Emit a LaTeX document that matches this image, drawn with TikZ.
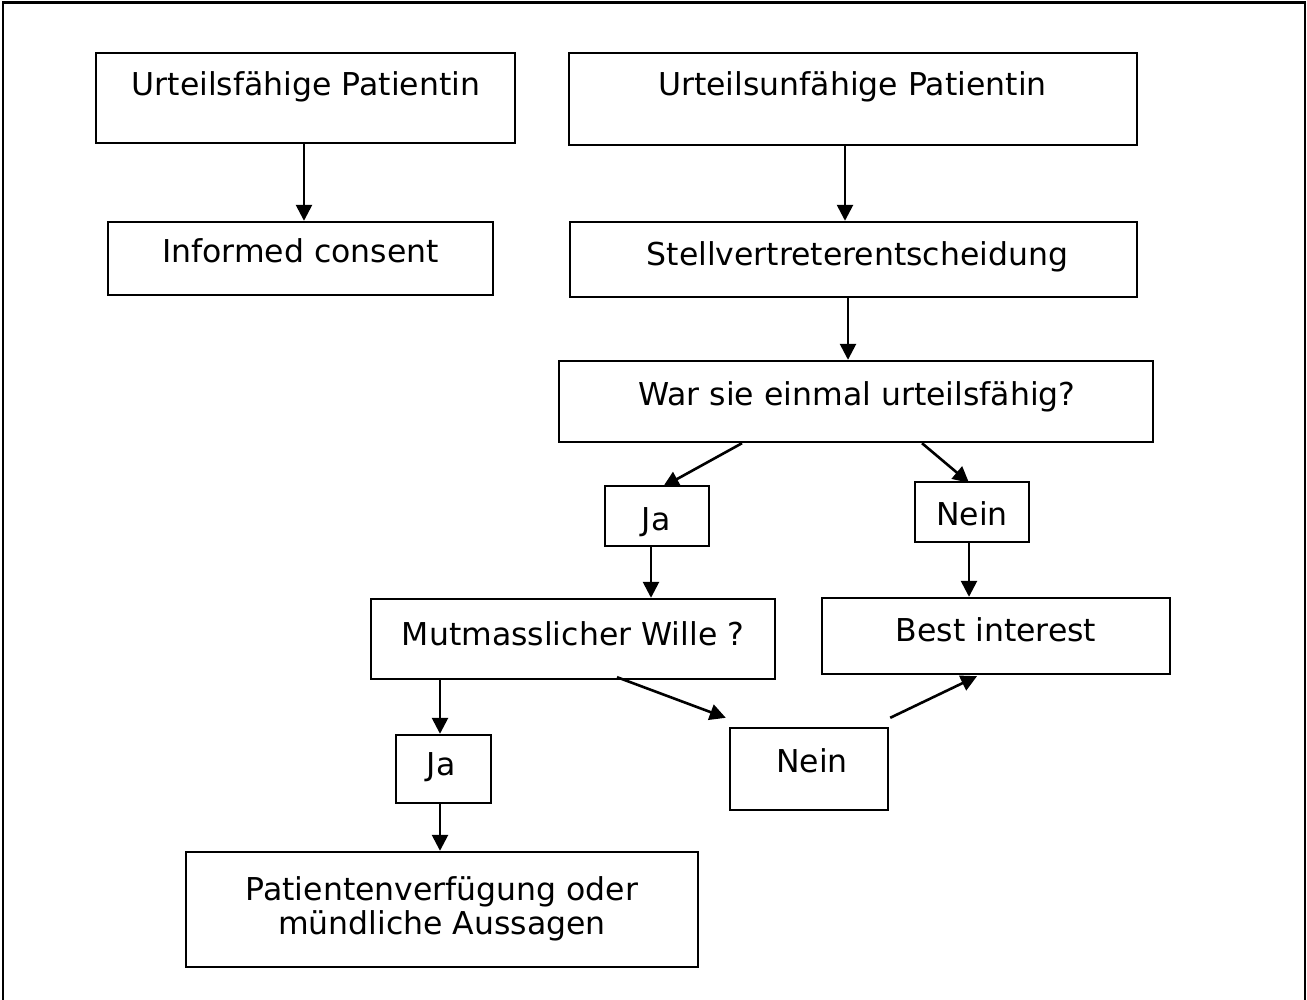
\documentclass[tikz,border=0pt]{standalone}
\usepackage{fontspec}
\setmainfont{DejaVu Sans}
\usetikzlibrary{arrows.meta}
\begin{document}
\begin{tikzpicture}[x=1pt,y=-1pt,
  box/.style={draw, line width=2.4pt, minimum width=#1, inner sep=0pt},
  txt/.style={font=\fontsize{31.5}{38}\selectfont, inner sep=0pt, anchor=base},
  arr/.style={line width=2.6pt, -{Triangle[length=16pt,width=16pt]}}]
\useasboundingbox (0,0) rectangle (1307,1000);
\draw[line width=2.2pt] (3,1010) -- (3,2.5) -- (1305,2.5) -- (1305,1010);
% boxes
\node[box=419pt, minimum height=90pt] (b1) at (305.5,98) {};
\node[box=385pt, minimum height=73pt] (b2) at (300.5,258.5) {};
\node[box=568pt, minimum height=92pt] (b3) at (853,99) {};
\node[box=567pt, minimum height=75pt] (b4) at (853.5,259.5) {};
\node[box=594pt, minimum height=81pt] (b5) at (856,401.5) {};
\node[box=104pt, minimum height=60pt] (b6) at (657,516) {};
\node[box=114pt, minimum height=60pt] (b7) at (972,512) {};
\node[box=404pt, minimum height=80pt] (b8) at (573,639) {};
\node[box=348pt, minimum height=76pt] (b9) at (996,636) {};
\node[box=95pt, minimum height=68pt] (b10) at (443.5,769) {};
\node[box=158pt, minimum height=82pt] (b11) at (809,769) {};
\node[box=512pt, minimum height=115pt] (b12) at (442,909.5) {};
% texts
\node[txt] (t1) at (306,96) {Urteilsfähige Patientin};
\node[txt] (t2) at (300.5,263) {Informed consent};
\node[txt] (t3) at (852.5,96) {Urteilsunfähige Patientin};
\node[txt] (t4) at (857.5,266) {Stellvertreterentscheidung};
\node[txt] (t5) at (857,405) {War sie einmal urteilsfähig?};
\node[txt] (t6) at (656,530) {Ja};
\node[txt] (t7) at (972,525) {Nein};
\node[txt] (t8) at (573,645) {Mutmasslicher Wille ?};
\node[txt] (t9) at (996,641) {Best interest};
\node[txt] (t10) at (441,775) {Ja};
\node[txt] (t11) at (812,772) {Nein};
\node[txt] (t12a) at (442,900) {Patientenverfügung oder};
\node[txt] (t12b) at (442,934) {mündliche Aussagen};
% arrows
\draw[arr] ([xshift=-1.5pt]b1.south) -- ([xshift=3.5pt]b2.north);
\draw[arr] ([xshift=-8pt]b3.south) -- ([xshift=-8.5pt]b4.north);
\draw[arr] ([xshift=-5.5pt]b4.south) -- ([xshift=-8pt]b5.north);
\draw[arr] ([xshift=-114pt]b5.south) -- ([xshift=6pt,yshift=-2pt]b6.north);
\draw[arr] ([xshift=66pt]b5.south) -- ([xshift=-3pt,yshift=-2pt]b7.north);
\draw[arr] ([xshift=-6pt]b6.south) -- ([xshift=78pt]b8.north);
\draw[arr] ([xshift=-3pt]b7.south) -- ([xshift=-27pt]b9.north);
\draw[arr] ([xshift=-133pt]b8.south) -- ([xshift=-3.5pt]b10.north);
\draw[arr] ([xshift=-3.5pt]b10.south) -- ([xshift=-2pt]b12.north);
\draw[arr] ([xshift=44pt,yshift=3pt]b8.south) -- ([xshift=-3pt,yshift=9pt]b11.north west);
\draw[arr] ([xshift=1pt,yshift=9pt]b11.north east) -- ([xshift=-19pt,yshift=-1pt]b9.south);
\end{tikzpicture}
\end{document}
